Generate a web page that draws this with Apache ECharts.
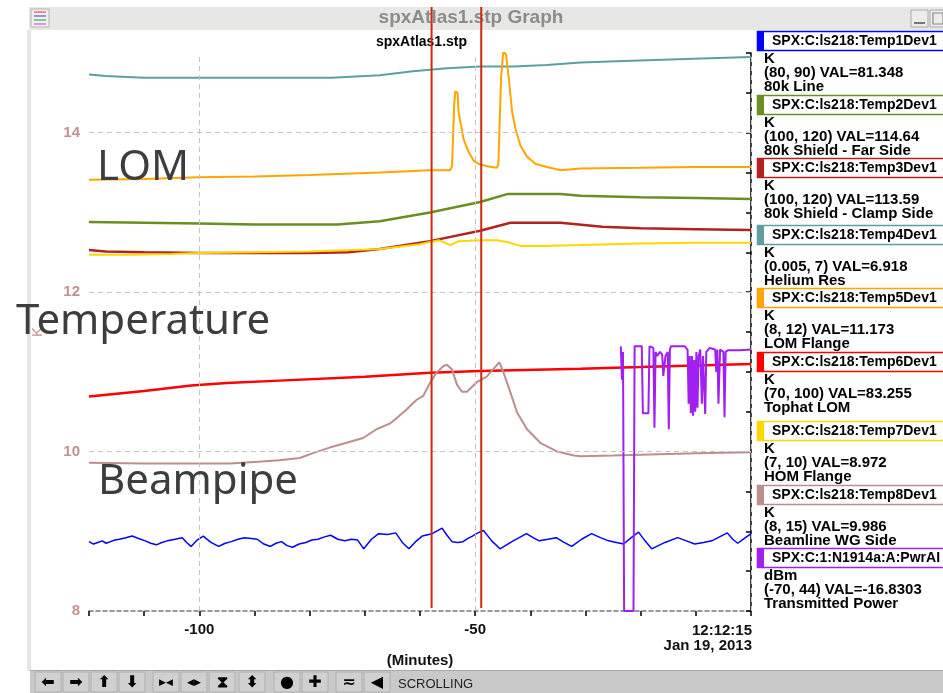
<!DOCTYPE html>
<html><head><meta charset="utf-8">
<script src="https://cdn.jsdelivr.net/npm/echarts@6/dist/echarts.min.js"></script>
<style>html,body{margin:0;padding:0;background:#fff}#c{width:943px;height:693px}</style>
</head><body><div id="c"></div><script>
// ---- data (display scale 8..15, minutes relative to 12:12:15) ----
var seriesNames = ['SPX:C:ls218:Temp1Dev1','SPX:C:ls218:Temp2Dev1','SPX:C:ls218:Temp3Dev1','SPX:C:ls218:Temp4Dev1','SPX:C:ls218:Temp5Dev1','SPX:C:ls218:Temp6Dev1','SPX:C:ls218:Temp7Dev1','SPX:C:ls218:Temp8Dev1','SPX:C:1:N1914a:A:PwrAI'];
var seriesUnits = ['K','K','K','K','K','K','K','K','dBm'];
var seriesRanges = ['(80, 90)','(100, 120)','(100, 120)','(0.005, 7)','(8, 12)','(70, 100)','(7, 10)','(8, 15)','(-70, 44)'];
var seriesVals = ['81.348','114.64','113.59','6.918','11.173','83.255','8.972','9.986','-16.8303'];
var seriesDescs = ['80k Line','80k Shield - Far Side','80k Shield - Clamp Side','Helium Res','LOM Flange','Tophat LOM','HOM Flange','Beamline WG Side','Transmitted Power'];
var seriesColors = ['#0000ff','#6b8e23','#b22222','#5f9ea0','#ffa500','#ff0000','#ffd700','#bc8f8f','#a020f0'];

var temp1T = [-120,-119.2,-118.4,-117.6,-116.9,-116.1,-115.3,-114.5,-113.3,-112.2,-111.0,-109.8,-108.8,-107.8,-106.8,-105.8,-104.4,-103.1,-102.3,-101.5,-100.4,-99.3,-97.9,-96.5,-95.3,-94.2,-93.0,-91.8,-90.6,-89.5,-88.3,-87.1,-86.1,-85.1,-84.1,-83.1,-81.9,-80.7,-79.6,-78.5,-77.3,-76.2,-74.9,-73.6,-72.4,-71.3,-70.2,-68.8,-67.5,-65.9,-64.4,-63.2,-62.0,-60.8,-59.6,-57.8,-56.0,-55.1,-54.2,-53.2,-52.2,-51.3,-50.5,-49.5,-48.5,-47.0,-45.5,-43.1,-40.7,-39.5,-38.4,-36.8,-35.3,-33.9,-32.5,-30.7,-28.9,-27.3,-25.8,-24.4,-23.1,-21.7,-20.4,-19.2,-18.0,-15.6,-13.3,-11.7,-10.2,-8.6,-7.1,-5.7,-4.3,-3.3,-2.4,-1.2,0];
var temp1V = [8.87,8.84,8.86,8.88,8.85,8.87,8.89,8.90,8.92,8.94,8.91,8.88,8.85,8.83,8.86,8.88,8.90,8.92,8.86,8.81,8.89,8.94,8.86,8.81,8.85,8.87,8.90,8.92,8.91,8.90,8.84,8.81,8.85,8.87,8.82,8.80,8.84,8.86,8.89,8.90,8.93,8.95,8.90,8.88,8.90,8.89,8.78,8.90,8.97,8.96,8.98,8.86,8.78,8.87,8.94,8.97,9.04,8.95,8.87,8.86,8.87,8.91,8.94,8.98,9.01,8.88,8.78,8.88,8.97,8.92,8.88,8.90,8.92,8.86,8.81,8.90,8.97,8.92,8.88,8.86,8.84,8.92,8.99,8.88,8.78,8.86,8.92,8.88,8.84,8.86,8.88,8.93,8.98,8.90,8.85,8.91,8.97];

var temp2T = [-120,-110,-100,-90,-80,-75,-67.3,-58.2,-49.1,-44.2,-34.5,-30.9,-20,-10,0];
var temp2V = [12.88,12.87,12.86,12.85,12.85,12.85,12.89,13.00,13.13,13.23,13.23,13.21,13.19,13.18,13.17];

var temp3T = [-120,-117,-110,-100,-90,-80,-73,-67.3,-58.2,-49.1,-43.6,-34.5,-27,-20,-10,0];
var temp3V = [12.53,12.51,12.50,12.49,12.49,12.49,12.50,12.54,12.64,12.77,12.87,12.87,12.82,12.80,12.79,12.78];

var temp4T = [-120,-117,-110,-100,-90,-76,-67.3,-61.3,-55.1,-49.1,-43.1,-37,-30.9,-23,-9,0];
var temp4V = [14.73,14.71,14.69,14.69,14.69,14.69,14.72,14.77,14.81,14.83,14.83,14.85,14.88,14.90,14.93,14.95];

var temp5T = [-120,-110,-100,-90,-80,-67.3,-58.2,-54.5,-54.2,-53.8,-53.6,-53.2,-53.0,-52.7,-52.1,-51.2,-50.3,-49.4,-47.9,-46.1,-45.8,-45.3,-44.9,-44.4,-43.9,-43.3,-42.7,-41.8,-40.6,-39.1,-37.0,-34.5,-30.9,-20,-10,0];
var temp5V = [13.41,13.42,13.44,13.45,13.47,13.50,13.53,13.53,13.58,14.35,14.52,14.50,14.26,14.14,13.92,13.76,13.65,13.61,13.58,13.56,13.60,14.70,15.02,14.98,14.68,14.26,14.05,13.84,13.70,13.61,13.57,13.53,13.55,13.56,13.57,13.57];

var temp6T = [-120,-110,-101.5,-95,-85.5,-70,-58.2,-49.1,-30.9,-20,-10,0];
var temp6V = [10.69,10.76,10.83,10.86,10.89,10.94,10.99,11.01,11.04,11.06,11.08,11.10];

var temp7T = [-120,-113,-105,-100,-90,-80,-67.3,-60,-58.2,-56.5,-54.5,-53,-49.1,-46.1,-44.2,-41.8,-38,-30.9,-20,-10,0];
var temp7V = [12.47,12.47,12.48,12.49,12.50,12.51,12.54,12.60,12.63,12.65,12.59,12.64,12.65,12.65,12.63,12.58,12.58,12.59,12.61,12.62,12.62];

var temp8T = [-120,-110,-100,-94.5,-90,-85.5,-81.8,-79.4,-76.4,-73.3,-70.3,-67.9,-65.5,-64.2,-62.4,-60.6,-59.4,-58.2,-57.0,-55.8,-55.1,-54.2,-53.3,-52.4,-51.5,-49.7,-47.9,-46.4,-45.6,-44.9,-43.6,-42.4,-40.6,-38.2,-35.1,-32.1,-30.9,-25,-20,-10,0];
var temp8V = [9.86,9.85,9.85,9.85,9.87,9.89,9.92,9.98,10.05,10.11,10.17,10.28,10.35,10.42,10.53,10.65,10.70,10.86,10.99,11.07,11.09,11.03,10.84,10.75,10.75,10.87,10.94,11.06,11.12,11.00,10.74,10.49,10.28,10.11,10.00,9.95,9.94,9.95,9.96,9.98,9.99];

var pwrT = [-23.6,-23.4,-23.2,-23.0,-21.3,-21.1,-19.8,-19.6,-18.6,-18.4,-17.7,-17.5,-17.3,-17.0,-16.5,-16.1,-15.9,-15.5,-15.1,-14.9,-14.7,-14.5,-12.0,-11.5,-11.3,-11.1,-10.9,-10.7,-10.5,-10.3,-10.1,-9.9,-9.7,-9.5,-9.2,-8.9,-8.7,-8.3,-8.1,-7.5,-6.5,-6.3,-6.1,-5.9,-5.6,-5.0,-4.8,-4.6,-4.2,-2,0];
var pwrV = [11.32,10.90,11.25,8.0,8.0,11.32,11.32,10.48,10.48,11.32,11.30,10.30,11.25,11.20,11.25,11.22,10.95,11.20,11.25,10.28,11.28,11.32,11.32,11.28,10.60,11.20,10.48,11.20,10.45,11.15,10.50,11.25,10.55,11.20,11.28,10.60,11.20,10.47,11.25,11.30,11.28,11.00,11.28,10.60,11.28,11.25,10.43,11.25,11.27,11.27,11.28];

var seriesT = [temp1T,temp2T,temp3T,temp4T,temp5T,temp6T,temp7T,temp8T,pwrT];
var seriesV = [temp1V,temp2V,temp3V,temp4V,temp5V,temp6V,temp7V,temp8V,pwrV];
var seriesWidths = [1.5,2.5,2.5,2,2,2.5,2,2,2];

var xMajorLabels = [-100,-50];
var xGridValues = [-100,-50,0];
var yLabelValues = [8,10,12,14];
var yGridValues = [10,12,14];
var cursorTimes = [-57.9,-48.9];
var legendTops = [31,95,158,225,288,352,421,485,548];

var FONT = '"Liberation Sans", Arial, sans-serif';

var chart = echarts.init(document.getElementById('c'), null, {renderer:'canvas'});

var series = seriesNames.map(function(n,i){
  return {
    name:n, type:'line', showSymbol:false, symbol:'none', animation:false, z:3,
    lineStyle:{color:seriesColors[i], width:seriesWidths[i]},
    itemStyle:{color:seriesColors[i]},
    data: seriesT[i].map(function(t,k){return [t, seriesV[i][k]];})
  };
});
series.unshift({
  type:'line', data:[], z:1, silent:true, animation:false,
  markLine:{silent:true, symbol:'none', animation:false, label:{show:false},
    lineStyle:{color:'#c4c4c4', type:[5,4], width:1},
    data: xGridValues.map(function(v){return {xAxis:v};}).concat(yGridValues.map(function(v){return {yAxis:v};}))
  }
});

chart.setOption({
  animation:false,
  backgroundColor:'#ffffff',
  title:{text:'spxAtlas1.stp', left:376, top:35, padding:0,
    textStyle:{fontFamily:FONT, fontSize:14, fontWeight:'bold', color:'#000'}},
  grid:{left:89, top:53, right:192, bottom:82, containLabel:false},
  xAxis:{type:'value', min:-120, max:0, interval:10,
    name:'(Minutes)', nameLocation:'middle', nameGap:42,
    nameTextStyle:{fontFamily:FONT, fontSize:15, fontWeight:'bold', color:'#111'},
    axisLine:{show:true, lineStyle:{color:'#777', type:[4,3], width:1.5}},
    axisTick:{show:true, length:5, lineStyle:{color:'#000', width:1.5}},
    axisLabel:{margin:11, fontFamily:FONT, fontSize:15, fontWeight:'bold', color:'#111',
      formatter:function(v){return xMajorLabels.indexOf(v)>=0 ? String(v) : '';}},
    splitLine:{show:false}},
  yAxis:{type:'value', min:8, max:15, interval:0.5,
    axisLine:{show:true, lineStyle:{color:'#000', width:1.5}},
    axisTick:{show:true, length:5, lineStyle:{color:'#000', width:1.5}},
    axisLabel:{margin:9, fontFamily:FONT, fontSize:15, fontWeight:'bold', color:'#c39191',
      formatter:function(v){return yLabelValues.indexOf(v)>=0 ? String(v) : '';}},
    splitLine:{show:false}},
  series:series
});

// ---- decorations ----
var g = [];
function txt(text,x,y,opt){
  opt = opt||{};
  return {type:'text', z:opt.z||50, rotation:opt.rotation||0, x:x, y:y, silent:true,
    style:{text:text, fill:opt.fill||'#000', font:opt.font||('bold 15px '+FONT),
      textAlign:opt.align||'left', textVerticalAlign:opt.valign||'middle'}};
}
function rect(x,y,w,h,fill,stroke,lw,z){
  return {type:'rect', z:z||40, silent:true, shape:{x:x,y:y,width:w,height:h},
    style:{fill:fill||'none', stroke:stroke||null, lineWidth:lw||1}};
}
// window frame
g.push(rect(29,7,914,23,'#e7e7e5',null,0,40));
g.push(rect(27,30,4,641,'#e6e6e2',null,0,40));
g.push(txt('spxAtlas1.stp Graph',471,18,{fill:'#8c8c8c',font:'bold 19px '+FONT,align:'center'}));
// window icon
g.push(rect(31,9,18,18,'#efefef','#b5b5b5',1,41));
var iconCols=['#e07070','#7070e0','#60c060','#e070e0'];
iconCols.forEach(function(c,i){ g.push({type:'line',z:42,silent:true,shape:{x1:34,y1:12+i*4,x2:46,y2:12+i*4},style:{stroke:c,lineWidth:1.5}}); });
// window buttons
g.push(rect(911,10,17,17,'#ececec','#aaaaaa',1,41));
g.push({type:'line',z:42,silent:true,shape:{x1:914,y1:23,x2:925,y2:23},style:{stroke:'#777',lineWidth:2}});
g.push(rect(930,10,17,17,'#ececec','#aaaaaa',1,41));
g.push(rect(933,13,10,11,null,'#888',1.2,42));

// legend panel
seriesNames.forEach(function(n,i){
  var ty = legendTops[i];
  g.push(rect(757.5,ty+0.5,200,19,'#ffffff',seriesColors[i],1.5,41));
  g.push(rect(757,ty,7,20,seriesColors[i],null,0,42));
  g.push(txt(n,772,ty+10,{font:'bold 14px '+FONT,z:43}));
  g.push(txt(seriesUnits[i],764,ty+28,{font:'bold 15px '+FONT}));
  g.push(txt(seriesRanges[i]+' VAL='+seriesVals[i],764,ty+41.5,{font:'bold 15px '+FONT}));
  g.push(txt(seriesDescs[i],764,ty+56,{font:'bold 15px '+FONT}));
});

// overlay annotations
var bigFont = '42px "Noto Sans", "Open Sans", sans-serif';
g.push(txt('LOM',97,168,{fill:'#3d3d3d',font:bigFont,z:60}));
g.push(txt('Temperature',16,322,{fill:'#3d3d3d',font:bigFont,z:60}));
g.push(txt('Beampipe',98,482,{fill:'#3d3d3d',font:bigFont,z:60}));
g.push(txt('K',38,332,{fill:'#c39191',font:'15px '+FONT,align:'center',rotation:Math.PI/2,z:45}));

// bottom toolbar
g.push(rect(30,670,913,23,'#c9c9c9',null,0,40));
g.push({type:'line',z:41,silent:true,shape:{x1:30,y1:670.5,x2:943,y2:670.5},style:{stroke:'#a8a8a8',lineWidth:1}});
var btnX = [48,76,104,132,166,194,222,252,287,315,349,377];
var btnG = ['\u2B05','\u27A1','\u2B06','\u2B07','\u25B6\u25C0','\u25C0\u25B6','\u29D7','\u2B0D','\u25CF','\u271A','\u2242','\u25C0'];
btnX.forEach(function(x,i){
  g.push(rect(x-13,672,26,20,'#d0d0d0','#b0b0b0',1,41));
  var f = (btnG[i].length>1) ? 'bold 9px "DejaVu Sans", sans-serif' : 'bold 16px "DejaVu Sans", sans-serif';
  g.push(txt(btnG[i],x,683,{font:f,align:'center',z:42}));
});
g.push(txt('SCROLLING',398,684,{font:'13px '+FONT,fill:'#222'}));

// x axis end label (timestamp)
var p0 = chart.convertToPixel({xAxisIndex:0,yAxisIndex:0},[0,8]);
g.push(txt('12:12:15',p0[0]+1,631,{align:'right',font:'bold 15px '+FONT,fill:'#111'}));
g.push(txt('Jan 19, 2013',p0[0]+1,646,{align:'right',font:'bold 15px '+FONT,fill:'#111'}));

// cursor lines
cursorTimes.forEach(function(t){
  var p = chart.convertToPixel({xAxisIndex:0,yAxisIndex:0},[t,8]);
  g.push({type:'line',z:100,silent:true,shape:{x1:p[0],y1:7,x2:p[0],y2:608},style:{stroke:'#cc2a10',lineWidth:2}});
});

chart.setOption({graphic:{elements:g}});
</script></body></html>
